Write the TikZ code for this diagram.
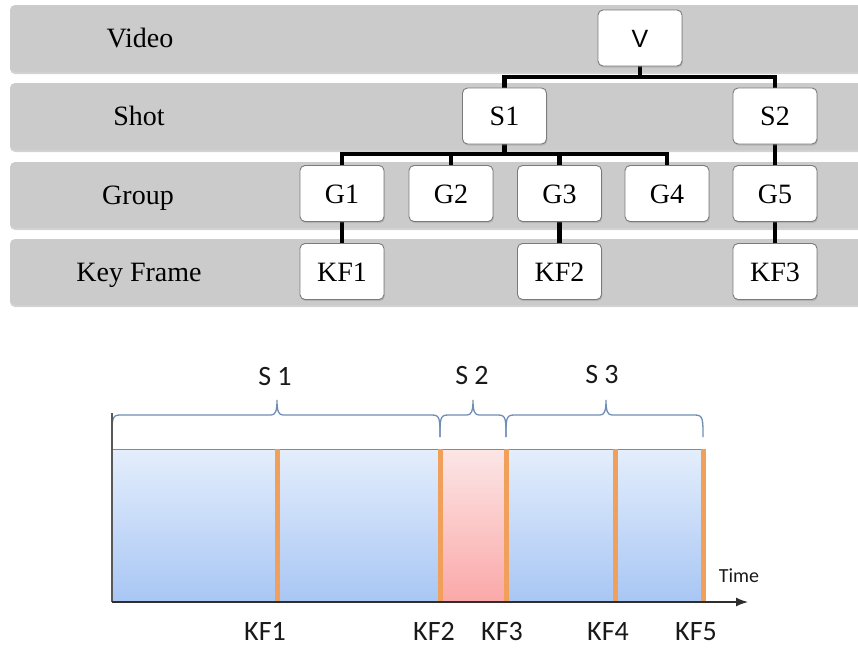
\documentclass[tikz,border=0pt]{standalone}
\usepackage{fontspec}
\setmainfont{Liberation Serif}
\newfontfamily\arialfont{Liberation Sans}
\newfontfamily\calfont{Carlito}
\usetikzlibrary{shadows,arrows.meta}
\pgfdeclarelayer{bands}
\pgfdeclarelayer{links}
\pgfsetlayers{bands,links,main}

\definecolor{bandgray}{HTML}{CBCBCB}
\definecolor{boxline}{HTML}{7A7A7A}
\definecolor{blueTop}{HTML}{E4EEFC}
\definecolor{blueBot}{HTML}{A8C6F4}
\definecolor{pinkTop}{HTML}{FCE6E6}
\definecolor{pinkBot}{HTML}{FBA8A8}
\definecolor{kforange}{HTML}{F0A05A}
\definecolor{bracecol}{HTML}{6F8DB5}
\definecolor{axiscol}{HTML}{2E2E2E}

% curly brace over a shot: left end, right end, tip
\newcommand\shotbrace[3]{%
  \draw[brace] (#1,437) .. controls (#1,419) and (#1,415) .. (#1+8,415)
    -- (#3-6,415) .. controls (#3-2,415) and (#3,412) .. (#3,400)
    .. controls (#3,412) and (#3+2,415) .. (#3+6,415)
    -- (#2-8,415) .. controls (#2,415) and (#2,419) .. (#2,437);}

\begin{document}
\begin{tikzpicture}[x=1pt,y=-1pt,
  box/.style={draw=boxline, line width=0.9pt, fill=white, rounded corners=5pt,
    minimum width=84pt, minimum height=56pt, inner sep=0pt,
    text height=19pt, text depth=0pt,
    font=\fontsize{28}{30}\selectfont,
    drop shadow={shadow xshift=0.8pt, shadow yshift=-1.6pt, opacity=0.3}},
  bandlabel/.style={inner sep=0pt, text height=19pt, text depth=0pt,
    font=\fontsize{28}{30}\selectfont},
  band/.style={fill=bandgray, rounded corners=5pt,
    drop shadow={shadow xshift=0pt, shadow yshift=-2pt, opacity=0.35}},
  tree/.style={line width=4.5pt, black},
  brace/.style={draw=bracecol, line width=1.3pt},
  kfline/.style={draw=kforange, line width=5pt},
  tllabel/.style={inner sep=0pt, text height=18pt, text depth=0pt,
    font=\calfont\fontsize{28}{30}\selectfont, text=black!90},
]
\useasboundingbox (0,0) rectangle (858,648);

% ---------- level bands ----------
\begin{pgfonlayer}{bands}
  \fill[band] (10,5)   rectangle (880,72);
  \fill[band] (10,83)  rectangle (880,150);
  \fill[band] (10,162) rectangle (880,228);
  \fill[band] (10,239) rectangle (880,305);
\end{pgfonlayer}

\node[bandlabel] (lvideo) at (140,38)  {Video};
\node[bandlabel] (lshot)  at (139,116) {Shot};
\node[bandlabel] (lgroup) at (138,195) {Group};
\node[bandlabel] (lkey)   at (139,272) {Key Frame};

% ---------- hierarchy nodes ----------
\node[box, font=\arialfont\fontsize{25}{27}\selectfont, text height=18pt] (V) at (640,38) {V};
\node[box] (S1) at (504.5,116) {S1};
\node[box] (S2) at (775,116)   {S2};
\node[box] (G1) at (342,193.5)   {G1};
\node[box] (G2) at (451,193.5)   {G2};
\node[box] (G3) at (559.5,193.5) {G3};
\node[box] (G4) at (667,193.5)   {G4};
\node[box] (G5) at (775,193.5)   {G5};
\node[box] (K1) at (342,271.5)   {KF1};
\node[box] (K2) at (559.5,271.5) {KF2};
\node[box] (K3) at (775,271.5)   {KF3};

\coordinate (vbus) at (640,77);
\coordinate (sbus) at (504.5,154);

\begin{pgfonlayer}{links}
  \draw[tree] (V.south) -- (vbus);
  \draw[tree] (S1.north) |- (vbus) -| (S2.north);
  \draw[tree] (S1.south) -- (sbus);
  \draw[tree] (G1.north) |- (sbus) -| (G4.north);
  \draw[tree] (G2.north) -- (G2.north |- sbus);
  \draw[tree] (G3.north) -- (G3.north |- sbus);
  \draw[tree] (S2.south) -- (G5.north);
  \draw[tree] (G1.south) -- (K1.north);
  \draw[tree] (G3.south) -- (K2.north);
  \draw[tree] (G5.south) -- (K3.north);
\end{pgfonlayer}

% ---------- timeline ----------
\shade[top color=blueTop, bottom color=blueBot] (112,449) rectangle (440,602);
\shade[top color=pinkTop, bottom color=pinkBot] (440,449) rectangle (506,602);
\shade[top color=blueTop, bottom color=blueBot] (506,449) rectangle (703,602);
\draw[bracecol, line width=1pt] (112,449) -- (703,449);

\coordinate (t0) at (112,602);
\coordinate (tend) at (748,602);
\coordinate (ttop) at (112,413);

\foreach \x/\n in {277/1, 440/2, 506/3, 615/4, 703/5}
  \draw[kfline] (\x,449) -- (\x,602);

\shotbrace{112}{440}{277}
\shotbrace{440}{506}{473}
\shotbrace{506}{703}{606}

\draw[axiscol!80, line width=1.6pt] (ttop) -- (t0);
\draw[axiscol, line width=1.4pt, -{Latex[length=12pt, width=9pt]}] (t0) -- (tend);

\node[tllabel] (ts1) at (275,376) {S 1};
\node[tllabel] (ts2) at (472,375) {S 2};
\node[tllabel] (ts3) at (602,374) {S 3};

\node[tllabel] (tk1) at (265,631) {KF1};
\node[tllabel] (tk2) at (434,631) {KF2};
\node[tllabel] (tk3) at (502,631) {KF3};
\node[tllabel] (tk4) at (608,631) {KF4};
\node[tllabel] (tk5) at (696,631) {KF5};

\node[tllabel, font=\calfont\fontsize{20}{22}\selectfont, text height=12.5pt] (time) at (739,576) {Time};
\end{tikzpicture}
\end{document}
